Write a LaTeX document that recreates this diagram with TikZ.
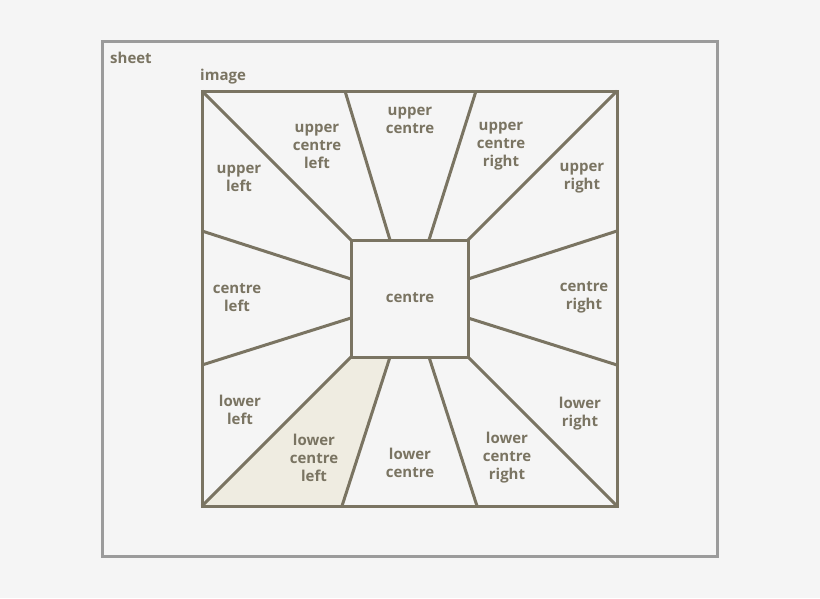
\documentclass[tikz,border=0pt]{standalone}
\usepackage{fontspec}
\setmainfont{Open Sans}
\usepackage{tikz}
\usetikzlibrary{backgrounds,calc}

\definecolor{bgcol}{HTML}{F5F5F5}
\definecolor{sheetcol}{HTML}{9B9B9B}
\definecolor{linecol}{HTML}{7A7462}
\definecolor{fillcol}{HTML}{EFECE1}

\tikzset{
	region/.style={draw=linecol, line width=3pt, line join=miter},
	zone/.style={text=linecol, font=\fontsize{15}{18}\selectfont\bfseries, align=center, inner sep=0pt, yshift=-1.5pt},
	title/.style={text=linecol, font=\fontsize{15}{18}\selectfont\bfseries, anchor=west, inner sep=0pt, yshift=-1pt}
}

\begin{document}
\begin{tikzpicture}[x=1pt,y=-1pt]
	
	% Define the background
	\useasboundingbox[fill=bgcol] (0,0) rectangle (820,598);
	
	% Define the corners
	\coordinate (otl) at (202,91);
	\coordinate (otr) at (617,91);
	\coordinate (obl) at (202,506);
	\coordinate (obr) at (617,506);
	\coordinate (itl) at (351,240);
	\coordinate (itr) at (468,240);
	\coordinate (ibl) at (351,357);
	\coordinate (ibr) at (468,357);
	
	% Define the cut points
	\coordinate (topa) at (345,91);
	\coordinate (topb) at (476,91);
	\coordinate (bota) at (342,506);
	\coordinate (botb) at (477,506);
	\coordinate (lefta) at (202,231);
	\coordinate (leftb) at (202,365);
	\coordinate (righta) at (617,231);
	\coordinate (rightb) at (617,365);
	\coordinate (itopa) at (390,240);
	\coordinate (itopb) at (429,240);
	\coordinate (ibota) at (390,357);
	\coordinate (ibotb) at (429,357);
	\coordinate (ilefta) at (351,279);
	\coordinate (ileftb) at (351,318);
	\coordinate (irighta) at (468,279);
	\coordinate (irightb) at (468,318);
	
	% Draw the sheet
	\draw[sheetcol, line width=3pt] (102,41) rectangle (717,556);
	\node[title] (sheet) at (110,57) {sheet};
	\node[title] (image) at (200,76) {image};
	
	% Draw the highlighted part
	\fill[fillcol] (obl) -- (ibl) -- (ibota) -- (bota) -- cycle;
	
	% Draw the image and the centre
	\draw[region] (otl) rectangle (obr);
	\draw[region] (itl) rectangle (ibr);
	
	% Draw the cuts
	\draw[region] (otl) -- (itl);
	\draw[region] (otr) -- (itr);
	\draw[region] (obl) -- (ibl);
	\draw[region] (obr) -- (ibr);
	\draw[region] (topa) -- (itopa);
	\draw[region] (topb) -- (itopb);
	\draw[region] (bota) -- (ibota);
	\draw[region] (botb) -- (ibotb);
	\draw[region] (lefta) -- (ilefta);
	\draw[region] (leftb) -- (ileftb);
	\draw[region] (righta) -- (irighta);
	\draw[region] (rightb) -- (irightb);
	
	% Label the parts
	\node[zone] (ul) at (239,177) {upper\\left};
	\node[zone] (ucl) at (317,145) {upper\\centre\\left};
	\node[zone] (uc) at (410,119) {upper\\centre};
	\node[zone] (ucr) at (501,145) {upper\\centre\\right};
	\node[zone] (ur) at (582,177) {upper\\right};
	\node[zone] (cl) at (237,296) {centre\\left};
	\node[zone] (c) at (410,296) {centre};
	\node[zone] (cr) at (584,296) {centre\\right};
	\node[zone] (ll) at (240,408) {lower\\left};
	\node[zone] (lcl) at (314,456) {lower\\centre\\left};
	\node[zone] (lc) at (410,461) {lower\\centre};
	\node[zone] (lcr) at (507,456) {lower\\centre\\right};
	\node[zone] (lr) at (580,412) {lower\\right};
	
\end{tikzpicture}
\end{document}
